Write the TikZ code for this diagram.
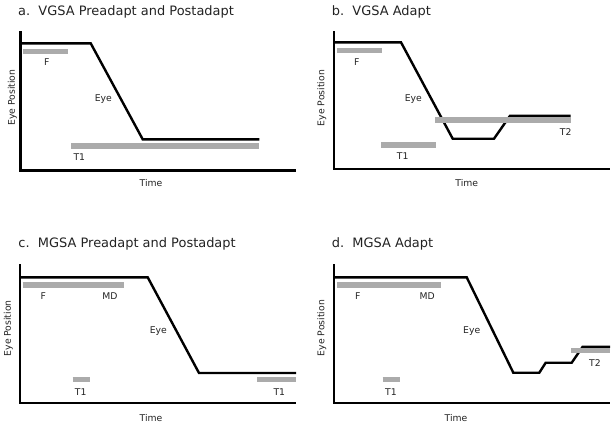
\documentclass[tikz,border=0pt]{standalone}
\usepackage{fontspec}
\setmainfont{DejaVu Sans}
\usetikzlibrary{positioning}
\definecolor{BarGray}{HTML}{ABABAB}
\definecolor{InkGray}{HTML}{222222}

\begin{document}
\begin{tikzpicture}[x=1bp,y=-1bp,
    axis/.style={line width=2.3bp,line join=miter},
    eye/.style={line width=2.4bp,line join=miter},
    bar/.style={BarGray,line width=5.5bp},
    lbl/.style={font=\fontsize{9.3}{11}\selectfont,text=InkGray,inner sep=0pt},
    ttl/.style={font=\fontsize{13}{15}\selectfont,text=InkGray,anchor=base west,inner sep=0pt}]
  \useasboundingbox (0,0) rectangle (615,426);

  % a. VGSA preadapt / postadapt
  \node[ttl] (ta) at (18,15) {a.\ \ VGSA Preadapt and Postadapt};
  \draw[axis] (20.5,31) |- (296,170.5);
  \draw[eye] (20.5,43.3) -- (90.7,43.3) -- (142.7,139.3) -- (259.3,139.3);
  \draw[bar] (22.7,51.7) -- (67.7,51.7);
  \draw[bar] (71,146) -- (259.3,146);
  \node[lbl] (fa) at (46.7,62.3) {F};
  \node[lbl] (ea) at (103.3,99.3) {Eye};
  \node[lbl] (t1a) at (79.3,157.3) {T1};
  \node[lbl,rotate=90] (ya) at (12.3,97.7) {Eye Position};
  \node[lbl] (xa) at (151,183.3) {Time};

  % b. VGSA adapt
  \node[ttl] (tb) at (331.7,15) {b.\ \ VGSA Adapt};
  \draw[axis] (334.3,31) |- (610,169.3);
  \draw[eye] (334.3,42.3) -- (401,42.3) -- (452.7,138.7) -- (494,138.7)
    -- (510,115.8) -- (570.7,115.8);
  \draw[bar] (337.3,50.7) -- (381.7,50.7);
  \draw[bar] (381,145) -- (436,145);
  \draw[bar] (435,120.2) -- (570.7,120.2);
  \node[lbl] (fb) at (356.7,62.3) {F};
  \node[lbl] (eb) at (413.3,98.7) {Eye};
  \node[lbl] (t1b) at (402.7,156) {T1};
  \node[lbl] (t2b) at (565.7,132) {T2};
  \node[lbl,rotate=90] (yb) at (321.7,98) {Eye Position};
  \node[lbl] (xb) at (466.7,183.3) {Time};

  % c. MGSA preadapt / postadapt
  \node[ttl] (tc) at (18.3,247.3) {c.\ \ MGSA Preadapt and Postadapt};
  \draw[axis] (20,264) |- (296,403.3);
  \draw[eye] (20,277.3) -- (147.7,277.3) -- (199,373) -- (296,373);
  \draw[bar] (22.7,285) -- (124,285);
  \draw[bar] (72.7,379.3) -- (90,379.3);
  \draw[bar] (257.3,379.3) -- (296,379.3);
  \node[lbl] (fc) at (43.3,296) {F};
  \node[lbl] (mdc) at (110,296) {MD};
  \node[lbl] (ec) at (158.3,330.7) {Eye};
  \node[lbl] (t1c) at (80.7,391.7) {T1};
  \node[lbl] (t1c2) at (279.3,391.7) {T1};
  \node[lbl,rotate=90] (yc) at (8.3,328.3) {Eye Position};
  \node[lbl] (xc) at (151,418.3) {Time};

  % d. MGSA adapt
  \node[ttl] (td) at (331.7,247.3) {d.\ \ MGSA Adapt};
  \draw[axis] (334.3,264) |- (610,402.7);
  \draw[eye] (334.3,277.3) -- (466.7,277.3) -- (513.3,372.7) -- (539.3,372.7)
    -- (545.7,362.7) -- (571.7,362.7) -- (582.7,346.7) -- (610,346.7);
  \draw[bar] (337.3,285) -- (441,285);
  \draw[bar] (382.7,379.3) -- (400,379.3);
  \draw[bar] (571,350.7) -- (610,350.7);
  \node[lbl] (fd) at (357.7,296) {F};
  \node[lbl] (mdd) at (427.3,296) {MD};
  \node[lbl] (ed) at (471.7,330.7) {Eye};
  \node[lbl] (t1d) at (391,391.7) {T1};
  \node[lbl] (t2d) at (595,363.3) {T2};
  \node[lbl,rotate=90] (yd) at (321.7,328) {Eye Position};
  \node[lbl] (xd) at (456,418.3) {Time};
\end{tikzpicture}
\end{document}
